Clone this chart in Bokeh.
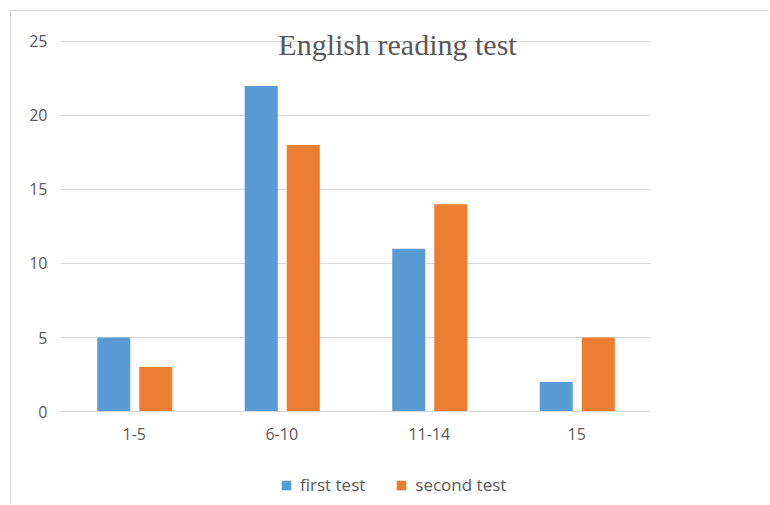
from bokeh.plotting import figure
from bokeh.models import FactorRange, Range1d, Legend, LegendItem, Label, FixedTicker
from bokeh.transform import dodge
from bokeh.embed import file_html
from bokeh.resources import INLINE

categories = ["1-5", "6-10", "11-14", "15"]
first_test = [5, 22, 11, 2]
second_test = [3, 18, 14, 5]
series_names = ["first test", "second test"]
y_ticks = [0, 5, 10, 15, 20, 25]
title_text = "English reading test"

BLUE = "#5B9BD5"
ORANGE = "#ED7D31"
GRID = "#D9D9D9"
TEXT = "#595959"
FONT = "Open Sans"

p = figure(
    width=759, height=494,
    x_range=FactorRange(*categories),
    y_range=Range1d(-6.08, 26.35),
    output_backend="svg", toolbar_location=None,
    min_border_left=49, min_border_right=120,
    min_border_top=10, min_border_bottom=4,
)
p.styles = {"position": "relative", "left": "11px", "top": "11px",
            "box-shadow": "-1px -1px 0 0 #D9D9D9"}
p.outline_line_color = None
p.background_fill_color = "white"
p.border_fill_color = "white"

src = dict(cat=categories, first=first_test, second=second_test)
r1 = p.vbar(x=dodge("cat", -0.139, range=p.x_range), top="first", bottom=0, width=0.224,
            source=src, fill_color=BLUE, line_color=None)
r2 = p.vbar(x=dodge("cat", 0.146, range=p.x_range), top="second", bottom=0, width=0.224,
            source=src, fill_color=ORANGE, line_color=None)

p.xgrid.grid_line_color = None
p.ygrid.grid_line_color = GRID
p.ygrid.grid_line_width = 1
p.yaxis.ticker = FixedTicker(ticks=y_ticks)

p.yaxis.axis_line_color = None
p.yaxis.major_tick_line_color = None
p.yaxis.minor_tick_line_color = None
p.yaxis.major_label_standoff = 7
p.xaxis.fixed_location = 0
p.xaxis.axis_line_color = GRID
p.xaxis.major_tick_line_color = None
p.xaxis.minor_tick_line_color = None
p.xaxis.major_label_standoff = 10
for ax in (p.xaxis, p.yaxis):
    ax.major_label_text_font = FONT
    ax.major_label_text_font_size = "16px"
    ax.major_label_text_color = TEXT

p.add_layout(Label(x=337, y=457, x_units="screen", y_units="screen", text=title_text,
                   text_font="Liberation Serif", text_font_size="30px", text_color=TEXT,
                   text_align="center", text_baseline="alphabetic"))

legend = Legend(items=[LegendItem(label=series_names[0], renderers=[r1]),
                       LegendItem(label=series_names[1], renderers=[r2])],
                location=(220, 5), orientation="horizontal",
                glyph_width=12, glyph_height=12, label_standoff=8, spacing=30,
                padding=0, margin=0, border_line_alpha=0, background_fill_alpha=0,
                label_text_font=FONT, label_text_font_size="17px", label_text_color=TEXT)
p.add_layout(legend, "center")

open("out.html", "w").write(file_html(p, INLINE))
